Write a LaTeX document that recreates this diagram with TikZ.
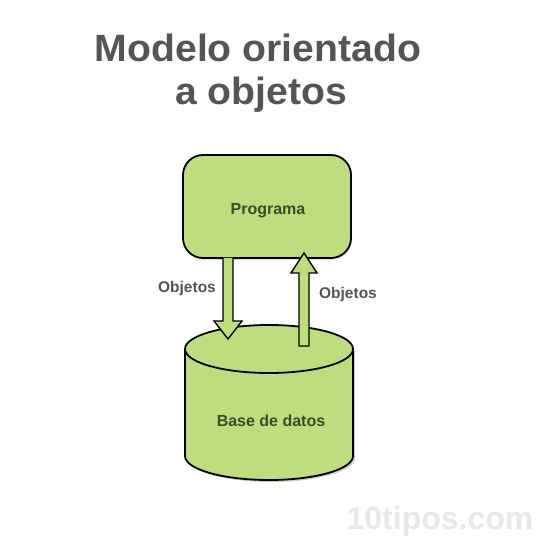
\documentclass[tikz,border=0pt]{standalone}
\usepackage{fontspec}
\setmainfont{Liberation Sans}
\usetikzlibrary{shadows}
\definecolor{boxgreen}{RGB}{190,222,125}
\definecolor{titlegray}{RGB}{85,85,85}
\definecolor{olivetext}{RGB}{62,75,40}
\begin{document}
\begin{tikzpicture}[x=1pt,y=1pt,
  greenshape/.style={fill=boxgreen,draw=black,line width=1.8pt},
  blockarrow/.style={fill=boxgreen,draw=black,line width=1.4pt,line join=miter},
  lbl/.style={font=\bfseries\fontsize{15.5}{18}\selectfont,text=titlegray},
  inner/.style={font=\bfseries\fontsize{16}{19}\selectfont,text=olivetext},
  ttl/.style={font=\bfseries\fontsize{38}{44}\selectfont,text=titlegray,xscale=1.03,anchor=base}]
\fill[white] (0,0) rectangle (541,541);
% title
\node[ttl] (t1) at (258,479) {Modelo orientado};
\node[ttl] (t2) at (261,436) {a objetos};
% program box
\node[greenshape,rounded corners=20pt,minimum width=168pt,minimum height=103pt,
      drop shadow={opacity=0.25,shadow xshift=1pt,shadow yshift=-2pt}] (prog) at (267,334.5) {};
\node[inner] (progt) at (268,330) {Programa};
% database cylinder
\fill[black,opacity=0.2] (187,190) -- (187,83) arc[start angle=180,end angle=360,x radius=84,y radius=24] -- (355,190) -- cycle;
\fill[boxgreen] (185,192) -- (185,85) arc[start angle=180,end angle=360,x radius=84,y radius=24]
   -- (353,192) arc[start angle=0,end angle=180,x radius=84,y radius=24] -- cycle;
\draw[line width=1.8pt] (185,192) -- (185,85) arc[start angle=180,end angle=360,x radius=84,y radius=24] -- (353,192);
\draw[line width=1.8pt] (269,192) ellipse[x radius=84,y radius=24];
\node[inner] (db) at (271,120) {Base de datos};
% down arrow
\draw[blockarrow] (223,283) -- (223,220) -- (214,220) -- (228,202) -- (242,220) -- (233,220) -- (233,283);
% up arrow
\draw[blockarrow] (299,195) -- (299,268) -- (291,268) -- (304,288) -- (317,268) -- (309,268) -- (309,195) -- cycle;
% labels
\node[lbl] (l1) at (187,253) {Objetos};
\node[lbl] (l2) at (348,247) {Objetos};
% watermark
\node[font=\bfseries\fontsize{32}{36}\selectfont,text=black!9,anchor=base] (wm) at (440,11) {10tipos.com};
\end{tikzpicture}
\end{document}
